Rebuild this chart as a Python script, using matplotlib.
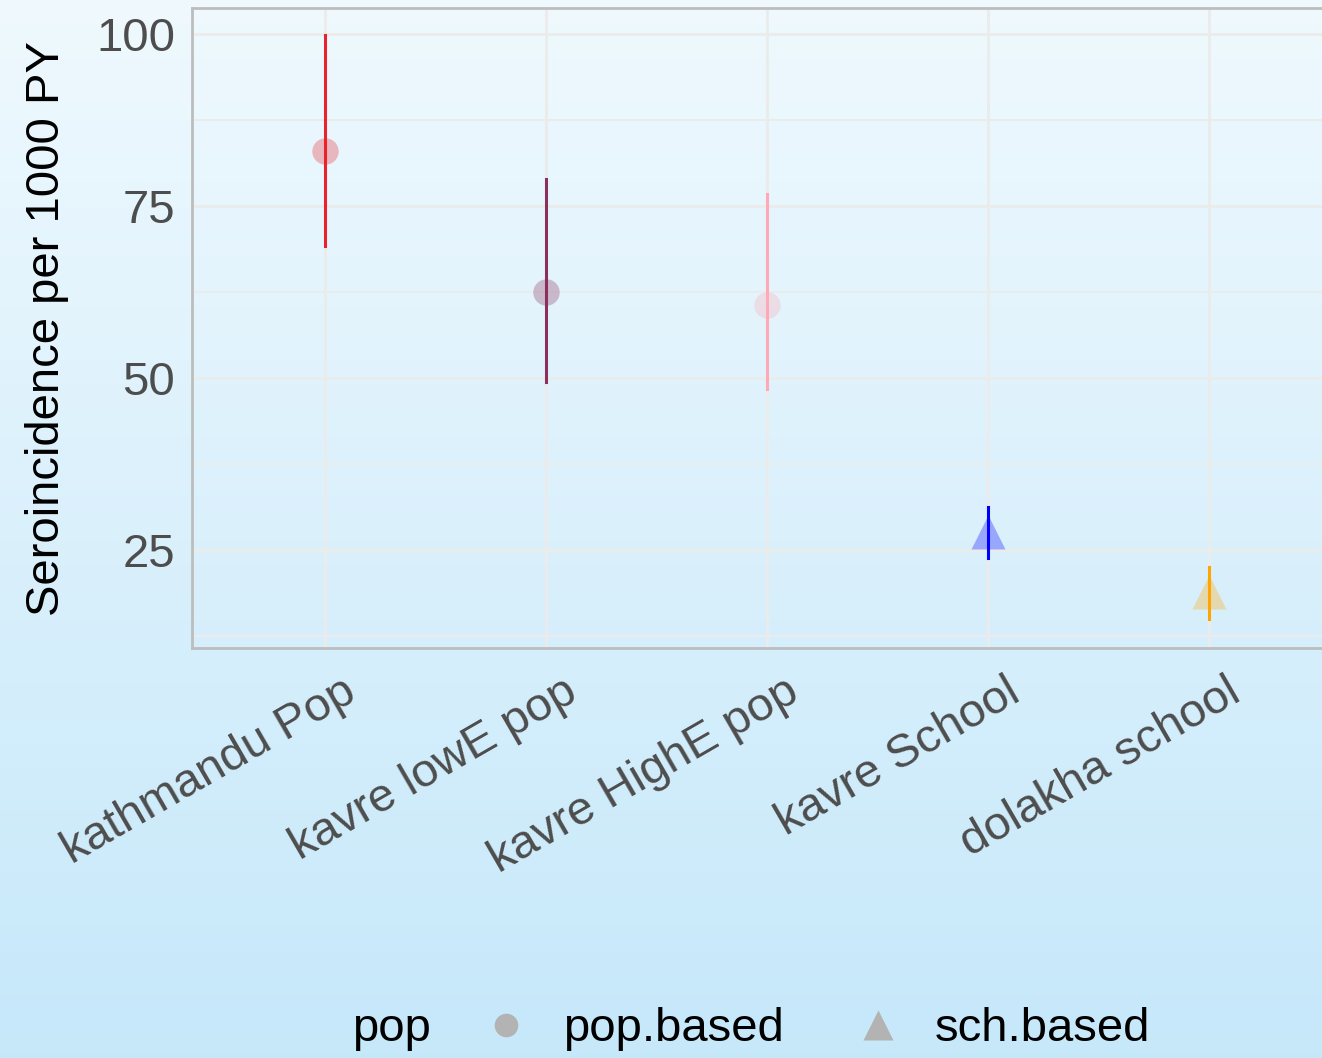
import matplotlib.pyplot as plt
import numpy as np
from matplotlib.lines import Line2D
from matplotlib.ticker import MultipleLocator
import matplotlib.transforms as mtransforms

# seroincidence estimates with 95% intervals
sites = ['kathmandu Pop', 'kavre lowE pop', 'kavre HighE pop', 'kavre School', 'dolakha school']
estimate = [82.9, 62.4, 60.6, 27.6, 18.9]
lower = [69.1, 49.4, 48.3, 23.8, 14.9]
upper = [99.8, 78.9, 76.7, 31.2, 22.5]
pop = ['pop.based', 'pop.based', 'pop.based', 'sch.based', 'sch.based']
site_colors = ['#e8232b', '#8a2f5e', '#ffa8b6', '#0000ff', '#ffa500']

plt.rcParams['font.family'] = ['Liberation Sans', 'DejaVu Sans']
fs = 34

fig = plt.figure(figsize=(13.22, 10.58), dpi=100)

# light blue vertical gradient behind everything
bg = fig.add_axes([0, 0, 1, 1], zorder=-10)
grad = np.linspace(0, 1, 256).reshape(-1, 1)
top = np.array([0.937, 0.976, 0.996])
bot = np.array([0.776, 0.910, 0.980])
img = top + (bot - top) * grad[:, :, None]
bg.imshow(img, aspect='auto', extent=[0, 1, 0, 1])
bg.axis('off')

ax = fig.add_axes([0.1452, 0.3875, 0.8699, 0.6049])
ax.set_facecolor('none')

x = np.arange(1, len(sites) + 1)
shapes = {'pop.based': 'o', 'sch.based': '^'}
sizes = {'pop.based': 19, 'sch.based': 24}
for i in range(len(sites)):
    ax.plot([x[i], x[i]], [lower[i], upper[i]], color=site_colors[i], lw=2.2, zorder=3)
    ax.plot(x[i], estimate[i], marker=shapes[pop[i]], ms=sizes[pop[i]],
            color=site_colors[i], alpha=0.3, mec='none', zorder=2)

ax.set_xlim(0.4, 5.6)
ax.set_ylim(10.7, 103.7)
ax.set_xticks(x)
ax.set_xticklabels(sites)
ax.yaxis.set_major_locator(MultipleLocator(25))
ax.yaxis.set_minor_locator(MultipleLocator(12.5))
ax.grid(True, which='major', color='#ebebeb', lw=2)
ax.grid(True, which='minor', axis='y', color='#ebebeb', lw=1.4)
ax.set_axisbelow(True)
ax.tick_params(axis='both', which='both', length=0, labelsize=fs, labelcolor='#4d4d4d')
ax.tick_params(axis='y', pad=12)

offset = mtransforms.ScaledTranslation(0.17, -0.17, fig.dpi_scale_trans)
for lab in ax.get_xticklabels():
    lab.set_rotation(30)
    lab.set_ha('right')
    lab.set_va('top')
    lab.set_rotation_mode('anchor')
    lab.set_transform(lab.get_transform() + offset)

for s in ax.spines.values():
    s.set_color('#bdbdbd')
    s.set_linewidth(2)

ax.set_ylabel('Seroincidence per 1000 PY', fontsize=fs, color='black', labelpad=20)

# legend along the bottom
fig.text(0.266, 0.027, 'pop', fontsize=fs, color='black', va='center')
handles = [Line2D([], [], ls='none', marker='o', ms=17, color='#b3b3b3', mec='none'),
           Line2D([], [], ls='none', marker='^', ms=21, color='#b3b3b3', mec='none')]
fig.legend(handles, ['pop.based', 'sch.based'], loc='center left',
           bbox_to_anchor=(0.347, 0.027), ncol=2, frameon=False, fontsize=fs,
           borderpad=0, handlelength=1.0, handletextpad=0.7, columnspacing=1.5)

plt.savefig('out.png', dpi=100)
